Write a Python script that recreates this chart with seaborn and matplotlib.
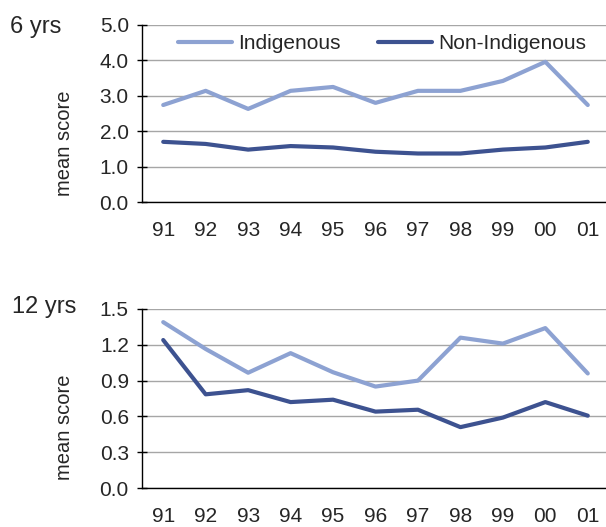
import numpy as np
import pandas as pd
import matplotlib
matplotlib.use("Agg")
import matplotlib.pyplot as plt
import seaborn as sns

# Data
years = ["91", "92", "93", "94", "95", "96", "97", "98", "99", "00", "01"]
indig_6 = [2.74, 3.14, 2.63, 3.14, 3.25, 2.80, 3.14, 3.14, 3.42, 3.96, 2.74]
nonindig_6 = [1.70, 1.64, 1.48, 1.58, 1.54, 1.42, 1.37, 1.37, 1.48, 1.54, 1.70]
indig_12 = [1.39, 1.165, 0.966, 1.13, 0.97, 0.85, 0.90, 1.26, 1.21, 1.34, 0.96]
nonindig_12 = [1.24, 0.785, 0.82, 0.72, 0.74, 0.64, 0.656, 0.51, 0.59, 0.72, 0.606]

sns.set_style("white")
plt.rcParams['font.family'] = ['Liberation Sans', 'DejaVu Sans']

palette = {'Indigenous': '#8DA2D2', 'Non-Indigenous': '#3D5290'}

def make_df(ind, non):
    x = np.arange(len(years))
    return pd.DataFrame({
        'x': np.concatenate([x, x]),
        'score': ind + non,
        'group': ['Indigenous'] * len(years) + ['Non-Indigenous'] * len(years),
    })

W, H = 606, 527
fig = plt.figure(figsize=(W / 100, H / 100), dpi=100)

def px_axes(left, top, right, bottom):
    return fig.add_axes([left / W, 1 - bottom / H, (right - left) / W, (bottom - top) / H])

ax1 = px_axes(142, 25, 609, 202)
ax2 = px_axes(142, 309, 609, 488)

panels = [
    (ax1, make_df(indig_6, nonindig_6), 5.0, np.arange(0, 5.01, 1.0)),
    (ax2, make_df(indig_12, nonindig_12), 1.5, np.arange(0, 1.51, 0.3)),
]

for ax, df, ymax, yticks in panels:
    sns.lineplot(data=df, x='x', y='score', hue='group', palette=palette,
                 linewidth=3.0, ax=ax, legend=(ax is ax1))
    ax.set_xlim(-0.5, 10.5)
    ax.set_ylim(0, ymax)
    ax.set_yticks(yticks)
    ax.set_yticklabels(["{:.1f}".format(v) for v in yticks])
    ax.set_xticks(np.arange(len(years)))
    ax.set_xticklabels(years)
    ax.set_xticks(np.arange(-0.5, len(years), 1.0), minor=True)
    ax.tick_params(axis='x', which='major', length=0, pad=14, labelsize=15)
    ax.tick_params(axis='x', which='minor', length=4, width=1, direction='out', color='black')
    ax.tick_params(axis='y', which='major', length=7, width=1, direction='inout', pad=6,
                   labelsize=15, color='black', left=True)
    ax.yaxis.grid(True, color='#A6A6A6', linewidth=1)
    ax.set_axisbelow(True)
    for s in ['top', 'right']:
        ax.spines[s].set_visible(False)
    for s in ['left', 'bottom']:
        ax.spines[s].set_color('black')
        ax.spines[s].set_linewidth(1)
    ax.set_xlabel("")
    ax.set_ylabel("")

ax1.legend(loc='center', bbox_to_anchor=(0.514, 0.893), ncol=2, frameon=False,
           fontsize=15, handlelength=2.6, handletextpad=0.3, columnspacing=1.8)

fig.text(65 / W, 1 - 143 / H, "mean score", rotation=90, ha='center', va='center', fontsize=14.5)
fig.text(65 / W, 1 - 427 / H, "mean score", rotation=90, ha='center', va='center', fontsize=14.5)
fig.text(10 / W, 1 - 33 / H, "6 yrs", ha='left', va='baseline', fontsize=17)
fig.text(12 / W, 1 - 313 / H, "12 yrs", ha='left', va='baseline', fontsize=17)

plt.savefig("out.png", dpi=100)
